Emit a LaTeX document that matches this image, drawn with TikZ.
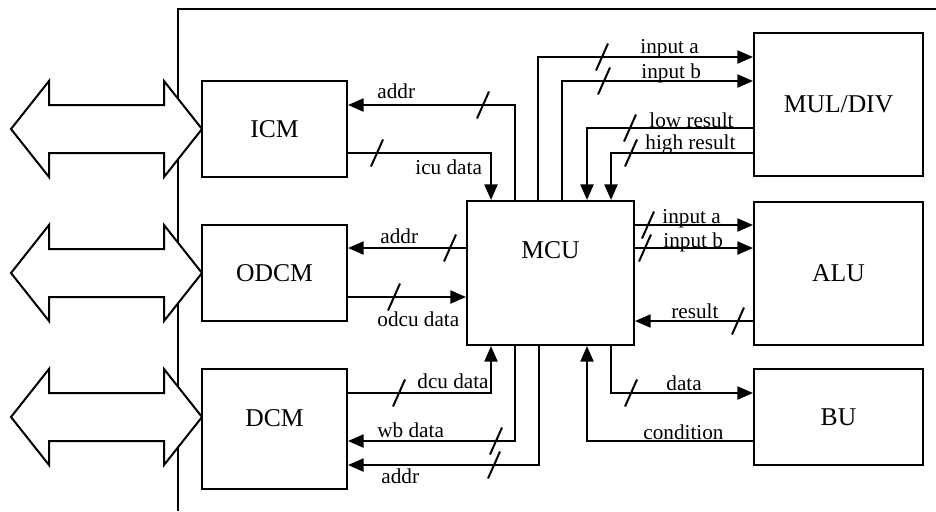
\documentclass[tikz,border=0pt]{standalone}
\usepackage{fontspec}
\setmainfont{Liberation Serif}
\usetikzlibrary{arrows.meta}

\tikzset{
  unit/.style={draw, line width=1pt, fill=white, inner sep=0pt, font=\fontsize{12.8}{15}\selectfont},
  unitname/.style={inner sep=0pt, font=\fontsize{12.8}{15}\selectfont},
  sig/.style={line width=1pt, -{Triangle[length=7.8pt,width=6.5pt]}},
  wire/.style={line width=1pt},
  sigtext/.style={anchor=base west, inner sep=0pt, font=\fontsize{10.6}{12}\selectfont},
  busmark/.pic={\draw[line width=1pt] (-6,13.5) -- (6,-13.5);},
  extbus/.pic={\draw[line width=1pt, fill=white] (-95.5,0) -- (-57.5,-48) -- (-57.5,-24) -- (57.5,-24) -- (57.5,-48) -- (95.5,0)
      -- (57.5,48) -- (57.5,24) -- (-57.5,24) -- (-57.5,48) -- cycle;}
}

\begin{document}
\begin{tikzpicture}[x=0.5pt, y=-0.5pt]
  \useasboundingbox (0,0) rectangle (936,511);
  \draw[wire] (178,511) -- (178,9) -- (936,9);
  \pic at (106.5,129) {extbus};
  \pic at (106.5,273) {extbus};
  \pic at (106.5,417) {extbus};

  \node[unit, minimum width=72.5pt, minimum height=48pt] (icm)  at (274.5,129) {ICM};
  \node[unit, minimum width=72.5pt, minimum height=48pt] (odcm) at (274.5,273) {ODCM};
  \node[unit, minimum width=72.5pt, minimum height=60pt] (dcm)  at (274.5,429) {};
  \node[unitname] (dcmname) at ([yshift=5.5pt]dcm.center) {DCM};
  \node[unit, minimum width=83.5pt, minimum height=72pt] (mcu)  at (550.5,273) {};
  \node[unitname] (mcuname) at ([yshift=11.5pt]mcu.center) {MCU};
  \node[unit, minimum width=84.5pt, minimum height=71.5pt] (mul) at (838.5,104.5) {MUL/DIV};
  \node[unit, minimum width=84.5pt, minimum height=71.5pt] (alu) at (838.5,273.5) {ALU};
  \node[unit, minimum width=84.5pt, minimum height=48pt]   (bu)  at (838.5,417) {BU};

  % cache side
  \draw[sig] (mcu.north -| 515,0) |- (icm.east |- 0,105);
  \draw[sig] (icm.east |- 0,153) -| (mcu.north -| 491,0);
  \draw[sig] (mcu.west |- 0,248) -- (odcm.east |- 0,248);
  \draw[sig] (odcm.east |- 0,297) -- (mcu.west |- 0,297);
  \draw[sig] (dcm.east |- 0,393) -| (mcu.south -| 491,0);
  \draw[sig] (mcu.south -| 515,0) |- (dcm.east |- 0,441);
  \draw[sig] (mcu.south -| 539,0) |- (dcm.east |- 0,465);
  % unit side
  \draw[sig] (mcu.north -| 538,0) |- (mul.west |- 0,57);
  \draw[sig] (mcu.north -| 562,0) |- (mul.west |- 0,81);
  \draw[sig] (mul.west |- 0,128) -| (mcu.north -| 587,0);
  \draw[sig] (mul.west |- 0,153) -| (mcu.north -| 611,0);
  \draw[sig] (mcu.east |- 0,225) -- (alu.west |- 0,225);
  \draw[sig] (mcu.east |- 0,248) -- (alu.west |- 0,248);
  \draw[sig] (alu.west |- 0,321) -- (mcu.east |- 0,321);
  \draw[sig] (mcu.south -| 611,0) |- (bu.west |- 0,393);
  \draw[sig] (bu.west |- 0,441) -| (mcu.south -| 587,0);

  \foreach \bx/\by in {483/105, 377/153, 450/248, 394/297, 399/393, 496/441, 494/465,
                       602/57, 604/81, 630/128, 631/153, 648/225, 645/248, 738/321, 631/393}
    \pic at (\bx,\by) {busmark};

  \node[sigtext] (icmaddr)  at (377,98)  {addr};
  \node[sigtext] (icudata)  at (415,174) {icu data};
  \node[sigtext] (odcmaddr) at (380,243) {addr};
  \node[sigtext] (odcudata) at (377,326) {odcu data};
  \node[sigtext] (dcudata)  at (417,388) {dcu data};
  \node[sigtext] (wbdata)   at (377,437) {wb data};
  \node[sigtext] (dcmaddr)  at (381,483) {addr};
  \node[sigtext] (mulina)   at (640,53)  {input a};
  \node[sigtext] (mulinb)   at (641,78)  {input b};
  \node[sigtext] (lowres)   at (649,127) {low result};
  \node[sigtext] (highres)  at (645,149) {high result};
  \node[sigtext] (aluina)   at (662,223) {input a};
  \node[sigtext] (aluinb)   at (663,247) {input b};
  \node[sigtext] (alures)   at (671,318) {result};
  \node[sigtext] (budata)   at (666,390) {data};
  \node[sigtext] (bucond)   at (643,439) {condition};
\end{tikzpicture}
\end{document}
